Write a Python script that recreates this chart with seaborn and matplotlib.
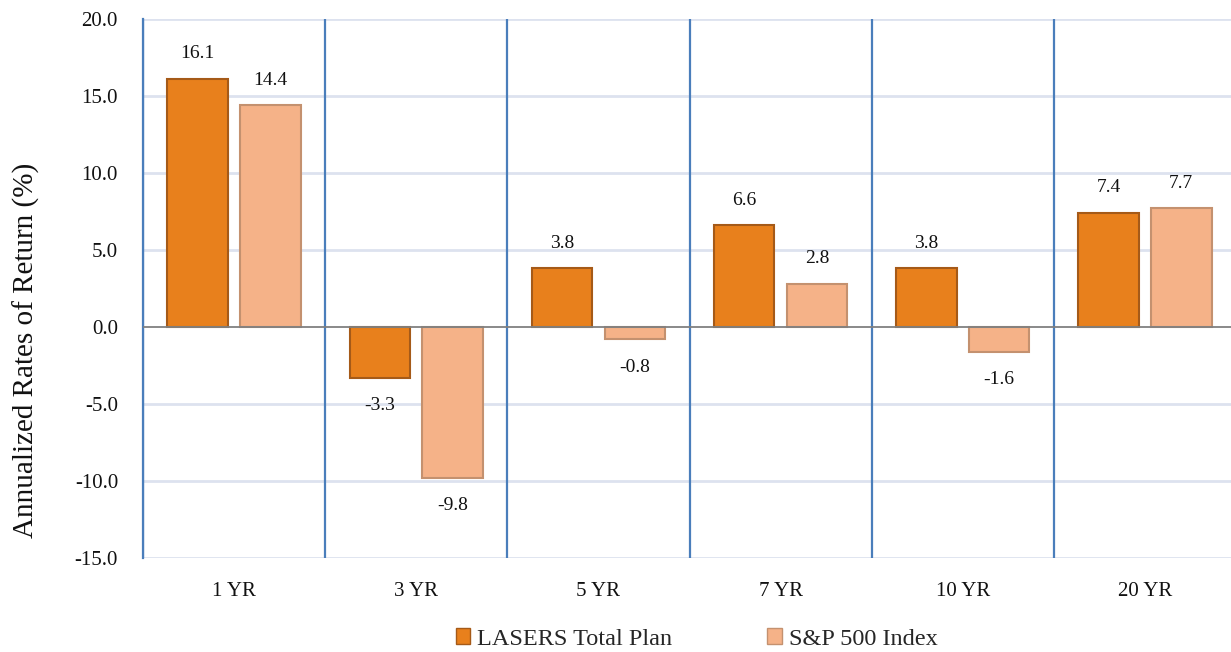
import matplotlib
matplotlib.use("Agg")
import matplotlib.pyplot as plt
import seaborn as sns
import pandas as pd

periods = ["1 YR", "3 YR", "5 YR", "7 YR", "10 YR", "20 YR"]
lasers = [16.1, -3.3, 3.8, 6.6, 3.8, 7.4]
sp500 = [14.4, -9.8, -0.8, 2.8, -1.6, 7.7]
series_names = ["LASERS Total Plan", "S&P 500 Index"]
yticks = [-15, -10, -5, 0, 5, 10, 15, 20]

df = pd.DataFrame({
    "Period": periods * 2,
    "Return": lasers + sp500,
    "Series": [series_names[0]] * len(periods) + [series_names[1]] * len(periods),
})

sns.set_theme(style="white")
plt.rcParams["font.family"] = ["Liberation Serif", "DejaVu Serif"]

fig = plt.figure(figsize=(12.31, 6.52), dpi=100)
ax = fig.add_axes([143 / 1231, 1 - 558 / 652, 1 - 143 / 1231, (558 - 19) / 652])

palette = {series_names[0]: "#e8801c", series_names[1]: "#f5b288"}
edges = {series_names[0]: "#a55a18", series_names[1]: "#c4916f"}

sns.barplot(data=df, x="Period", y="Return", hue="Series", order=periods,
            hue_order=series_names, palette=palette, width=0.8, gap=0.17,
            ax=ax, legend=True, saturation=1, zorder=3)

for cont, name in zip(ax.containers, series_names):
    for p in cont:
        p.set_edgecolor(edges[name])
        p.set_linewidth(1.5)
    for p, v in zip(cont, cont.datavalues):
        x = p.get_x() + p.get_width() / 2
        if v >= 0:
            ax.annotate(f"{v:.1f}", (x, v), xytext=(0, 12), textcoords="offset points",
                        ha="center", va="bottom", fontsize=14, color="#111111")
        else:
            ax.annotate(f"{v:.1f}", (x, v), xytext=(0, -14), textcoords="offset points",
                        ha="center", va="top", fontsize=14, color="#111111")

ax.set_ylim(-15, 20)
ax.set_yticks(yticks)
ax.set_yticklabels([f"{t:.1f}" for t in yticks], fontsize=15, color="#111111")
ax.set_xlim(-0.5, 5.5 - 5 / 182)
ax.tick_params(axis="x", labelsize=15, colors="#111111", pad=17, length=0)
ax.tick_params(axis="y", pad=18, length=0)

for y in yticks:
    if y != 0:
        ax.axhline(y, color="#dde2ef", lw=2, zorder=1)
ax.axhline(0, color="#808080", lw=1.3, zorder=4)
for i in range(len(periods)):
    ax.axvline(i - 0.5, color="#4a7ebb", lw=1.6, zorder=2)

for s in ["top", "right", "bottom"]:
    ax.spines[s].set_visible(False)
ax.spines["left"].set_color("#4a7ebb")
ax.spines["left"].set_linewidth(1.6)

ax.set_xlabel("")
ax.set_ylabel("Annualized Rates of Return (%)", fontsize=21, color="#111111")
ax.yaxis.set_label_coords(-0.095, 0.385)

handles, labels = ax.get_legend_handles_labels()
ax.get_legend().remove()
for h, name in zip(handles, series_names):
    h.set_edgecolor(edges[name])
fig.legend(handles, labels, loc="lower center", bbox_to_anchor=(0.566, -0.03), ncol=2,
           frameon=False, fontsize=17.5, handlelength=0.6, handleheight=0.6,
           handletextpad=0.3, columnspacing=3.9)

fig.savefig("out.png", dpi=100)
